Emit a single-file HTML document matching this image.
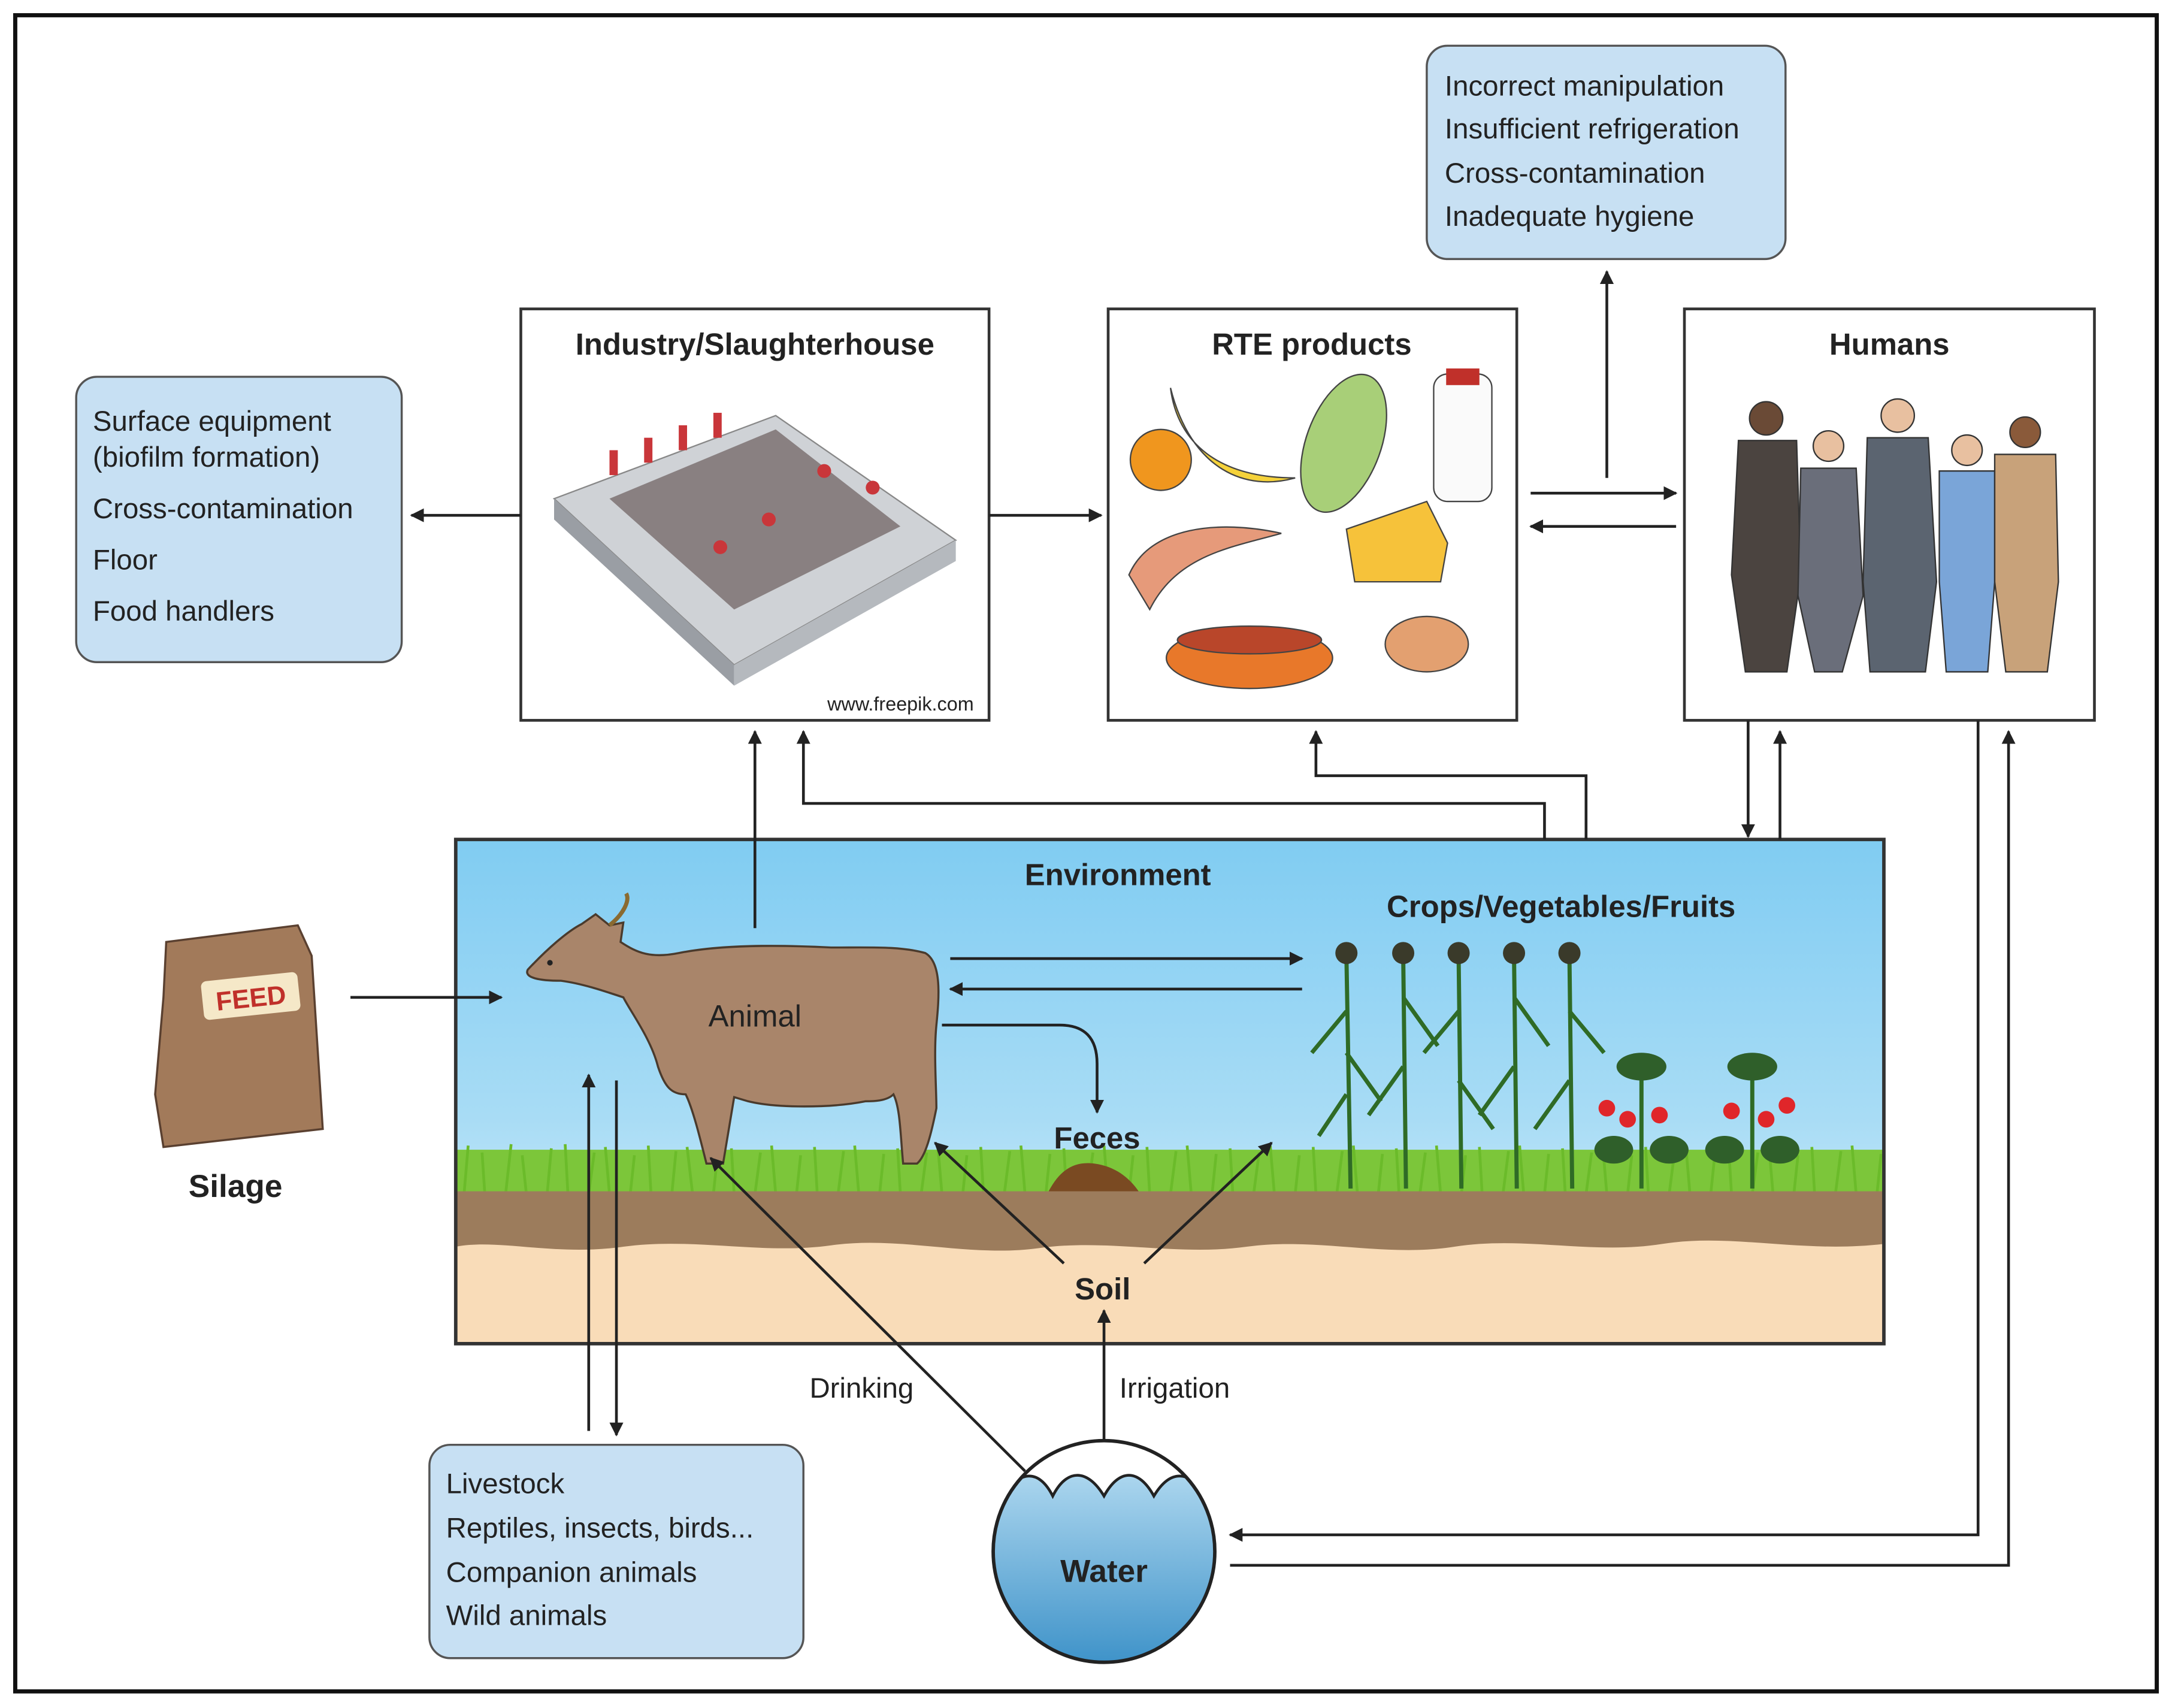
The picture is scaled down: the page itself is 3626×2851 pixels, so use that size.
<!DOCTYPE html>
<html><head><meta charset="utf-8"><style>
html,body{margin:0;padding:0;background:#fff}
svg{display:block}
text{font-family:"Liberation Sans",Arial,sans-serif;fill:#222}
</style></head><body>
<svg width="3626" height="2851" viewBox="0 0 1568 1233" preserveAspectRatio="none" xmlns="http://www.w3.org/2000/svg">
<defs>
<marker id="a" markerWidth="10" markerHeight="10" refX="9" refY="5" orient="auto" markerUnits="userSpaceOnUse" viewBox="0 0 10 10">
<path d="M0,0 L10,5 L0,10 z" fill="#222"/></marker>
<linearGradient id="sky" x1="0" y1="0" x2="0" y2="1">
<stop offset="0" stop-color="#80ccf2"/><stop offset="0.55" stop-color="#a8dcf5"/><stop offset="1" stop-color="#dff2fb"/></linearGradient>
<linearGradient id="wat" x1="0" y1="0" x2="0" y2="1">
<stop offset="0" stop-color="#bfe2f5"/><stop offset="1" stop-color="#3f93c9"/></linearGradient>
<clipPath id="wc"><circle cx="797" cy="1120" r="80"/></clipPath>
</defs>
<rect x="0" y="0" width="1568" height="1233" fill="#fff"/>
<rect x="11" y="11" width="1546" height="1210" fill="none" stroke="#111" stroke-width="3"/>

<rect x="329" y="606" width="1031" height="364" fill="url(#sky)"/>
<path d="M329,830 L1360,830 L1360,862 L329,862z" fill="#7cc63a"/>
<g stroke="#6bbb2a" stroke-width="2">
<path d="M335,862 l3,-35 M350,862 l-2,-30 M365,862 l4,-36 M380,862 l-3,-28 M395,862 l3,-33 M410,862 l-2,-36 M425,862 l4,-30 M440,862 l-3,-34 M455,862 l3,-28 M470,862 l-2,-35 M485,862 l3,-31 M500,862 l-4,-34 M515,862 l3,-28 M530,862 l-2,-33 M545,862 l4,-30 M560,862 l-3,-35 M575,862 l3,-28 M590,862 l-2,-34 M605,862 l4,-31 M620,862 l-3,-35 M635,862 l3,-29 M650,862 l-2,-33 M665,862 l4,-30 M680,862 l-3,-35 M695,862 l3,-28 M710,862 l-2,-34 M725,862 l4,-31 M740,862 l-3,-35 M755,862 l3,-29 M770,862 l-2,-33 M785,862 l4,-30 M800,862 l-3,-35 M815,862 l3,-28 M830,862 l-2,-34 M845,862 l4,-31 M860,862 l-3,-35 M875,862 l3,-29 M890,862 l-2,-33 M905,862 l4,-30 M920,862 l-3,-35 M935,862 l3,-28 M950,862 l-2,-34 M965,862 l4,-31 M980,862 l-3,-35 M995,862 l3,-29 M1010,862 l-2,-33 M1025,862 l4,-30 M1040,862 l-3,-35 M1055,862 l3,-28 M1070,862 l-2,-34 M1085,862 l4,-31 M1100,862 l-3,-35 M1115,862 l3,-29 M1130,862 l-2,-33 M1145,862 l4,-30 M1160,862 l-3,-35 M1175,862 l3,-28 M1190,862 l-2,-34 M1205,862 l4,-31 M1220,862 l-3,-35 M1235,862 l3,-29 M1250,862 l-2,-33 M1265,862 l4,-30 M1280,862 l-3,-35 M1295,862 l3,-28 M1310,862 l-2,-34 M1325,862 l4,-31 M1340,862 l-3,-35 M1355,862 l3,-29"/>
</g>
<rect x="329" y="860" width="1031" height="110" fill="#f9dcb8"/>
<path d="M329,860 L1360,860 L1360,898 C1300,905 1250,890 1200,898 C1150,906 1100,892 1050,900 C1000,908 950,893 900,900 C850,907 800,894 750,901 C700,908 650,892 600,899 C550,906 500,893 450,900 C400,907 360,894 329,900z" fill="#9c7c5c"/>
<rect x="329" y="606" width="1031" height="364" fill="none" stroke="#333" stroke-width="2.5"/>
<text x="807" y="639" font-size="22" font-weight="bold" text-anchor="middle">Environment</text>
<text x="1127" y="662" font-size="22" font-weight="bold" text-anchor="middle">Crops/Vegetables/Fruits</text>

<path d="M381,700 C395,685 410,672 420,667 L430,660 L440,668 L450,666 L448,680 C460,688 470,692 490,688 C520,682 560,682 600,684 C630,684 650,683 668,688 C680,695 678,720 676,740 C674,760 676,785 676,800 C672,820 668,835 662,840 L652,840 C650,820 650,800 645,790 C640,795 630,795 625,795 C600,800 560,800 540,795 L530,792 L522,840 L510,840 C505,820 500,800 495,790 C485,790 480,785 475,770 C470,750 455,730 450,720 C435,715 420,710 405,708 C390,708 378,706 381,700z" fill="#a9856a" stroke="#4a3a2c" stroke-width="1.5"/>
<path d="M440,668 C450,660 455,650 452,645" stroke="#8a6a30" stroke-width="3" fill="none"/>
<circle cx="397" cy="695" r="2" fill="#222"/>
<text x="545" y="741" font-size="22" text-anchor="middle">Animal</text>
<path d="M757,860 C765,845 775,838 790,840 C805,842 815,850 822,860z" fill="#7a4a22"/>
<text x="792" y="829" font-size="22" font-weight="bold" text-anchor="middle">Feces</text>
<text x="796" y="938" font-size="22" font-weight="bold" text-anchor="middle">Soil</text>

<g stroke="#2f6b26" stroke-width="3" fill="none">
<path d="M975,858 L972,690 M1015,858 L1013,690 M1055,858 L1053,690 M1095,858 L1093,690 M1135,858 L1133,690"/>
<path d="M972,730 l-25,30 M972,760 l25,35 M972,790 l-20,30 M1013,720 l25,35 M1013,770 l-25,35 M1053,730 l-25,30 M1053,780 l25,35 M1093,720 l25,35 M1093,770 l-25,35 M1133,730 l25,30 M1133,780 l-25,35"/>
<path d="M1185,858 L1185,770 M1265,858 L1265,770"/>
</g>
<g fill="#3a3a2a"><circle cx="972" cy="688" r="8"/><circle cx="1013" cy="688" r="8"/><circle cx="1053" cy="688" r="8"/><circle cx="1093" cy="688" r="8"/><circle cx="1133" cy="688" r="8"/></g>
<g fill="#2f5f2a"><ellipse cx="1165" cy="830" rx="14" ry="10"/><ellipse cx="1205" cy="830" rx="14" ry="10"/><ellipse cx="1245" cy="830" rx="14" ry="10"/><ellipse cx="1285" cy="830" rx="14" ry="10"/><ellipse cx="1185" cy="770" rx="18" ry="10"/><ellipse cx="1265" cy="770" rx="18" ry="10"/></g>
<g fill="#e0262a"><circle cx="1160" cy="800" r="6"/><circle cx="1175" cy="808" r="6"/><circle cx="1198" cy="805" r="6"/><circle cx="1250" cy="802" r="6"/><circle cx="1275" cy="808" r="6"/><circle cx="1290" cy="798" r="6"/></g>

<path d="M120,680 L215,668 L225,690 L233,815 L118,828 L112,790 L118,720z" fill="#a27a5a" stroke="#5a4030" stroke-width="1.5"/>
<rect x="146" y="705" width="70" height="28" rx="4" fill="#f5e8c8" transform="rotate(-6 181 719)"/>
<text x="181" y="727" font-size="19" font-weight="bold" style="fill:#c0302a" text-anchor="middle" transform="rotate(-6 181 719)">FEED</text>
<text x="170" y="864" font-size="23" font-weight="bold" text-anchor="middle">Silage</text>

<rect x="1030" y="33" width="259" height="154" rx="15" fill="#c7e0f3" stroke="#555" stroke-width="1.5"/>
<g font-size="20.5"><text x="1043" y="69">Incorrect manipulation</text><text x="1043" y="100">Insufficient refrigeration</text><text x="1043" y="132">Cross-contamination</text><text x="1043" y="163">Inadequate hygiene</text></g>
<rect x="55" y="272" width="235" height="206" rx="15" fill="#c7e0f3" stroke="#555" stroke-width="1.5"/>
<g font-size="20.5"><text x="67" y="311">Surface equipment</text><text x="67" y="337">(biofilm formation)</text><text x="67" y="374">Cross-contamination</text><text x="67" y="411">Floor</text><text x="67" y="448">Food handlers</text></g>
<rect x="310" y="1043" width="270" height="154" rx="15" fill="#c7e0f3" stroke="#555" stroke-width="1.5"/>
<g font-size="20.5"><text x="322" y="1078">Livestock</text><text x="322" y="1110">Reptiles, insects, birds...</text><text x="322" y="1142">Companion animals</text><text x="322" y="1173">Wild animals</text></g>

<rect x="376" y="223" width="338" height="297" fill="#fff" stroke="#333" stroke-width="2"/>
<text x="545" y="256" font-size="22" font-weight="bold" text-anchor="middle">Industry/Slaughterhouse</text>
<path d="M400,360 L560,300 L690,390 L530,480z" fill="#cfd2d6" stroke="#888"/>
<path d="M400,360 L530,480 L530,495 L400,375z" fill="#9a9ea4"/>
<path d="M530,480 L690,390 L690,405 L530,495z" fill="#b5b9be"/>
<path d="M440,360 L560,310 L650,380 L530,440z" fill="#5a4a48" opacity="0.6"/>
<g fill="#c9363a"><rect x="440" y="325" width="6" height="18"/><rect x="465" y="316" width="6" height="18"/><rect x="490" y="307" width="6" height="18"/><rect x="515" y="298" width="6" height="18"/><circle cx="520" cy="395" r="5"/><circle cx="555" cy="375" r="5"/><circle cx="595" cy="340" r="5"/><circle cx="630" cy="352" r="5"/></g>
<text x="703" y="513" font-size="14" text-anchor="end">www.freepik.com</text>

<rect x="800" y="223" width="295" height="297" fill="#fff" stroke="#333" stroke-width="2"/>
<text x="947" y="256" font-size="22" font-weight="bold" text-anchor="middle">RTE products</text>
<circle cx="838" cy="332" r="22" fill="#f0961e" stroke="#444"/>
<path d="M845,280 C850,320 880,345 935,345 C900,355 860,340 845,280z" fill="#f5d23a" stroke="#444"/>
<ellipse cx="970" cy="320" rx="27" ry="52" fill="#a8cf78" stroke="#444" transform="rotate(20 970 320)"/>
<rect x="1035" y="270" width="42" height="92" rx="10" fill="#fafafa" stroke="#444"/>
<rect x="1044" y="266" width="24" height="12" fill="#c0302a"/>
<path d="M815,415 C830,380 880,375 925,385 C890,395 850,400 830,440z" fill="#e69a7a" stroke="#444"/>
<path d="M972,382 L1030,362 L1045,392 L1040,420 L978,420z" fill="#f6c23a" stroke="#444"/>
<ellipse cx="902" cy="475" rx="60" ry="22" fill="#e8782a" stroke="#444"/>
<ellipse cx="902" cy="462" rx="52" ry="10" fill="#b9462a" stroke="#444"/>
<ellipse cx="1030" cy="465" rx="30" ry="20" fill="#e3a070" stroke="#444"/>

<rect x="1216" y="223" width="296" height="297" fill="#fff" stroke="#333" stroke-width="2"/>
<text x="1364" y="256" font-size="22" font-weight="bold" text-anchor="middle">Humans</text>
<g stroke="#333" stroke-width="1">
<circle cx="1275" cy="302" r="12" fill="#6a4a36"/><path d="M1255,318 L1297,318 L1300,415 L1290,485 L1260,485 L1250,415z" fill="#4b4440"/>
<circle cx="1320" cy="322" r="11" fill="#e8c0a0"/><path d="M1300,338 L1340,338 L1345,430 L1330,485 L1310,485 L1298,430z" fill="#6a6e7a"/>
<circle cx="1370" cy="300" r="12" fill="#e8c0a0"/><path d="M1348,316 L1392,316 L1398,420 L1390,485 L1350,485 L1345,420z" fill="#5b6470"/>
<circle cx="1420" cy="325" r="11" fill="#e8c0a0"/><path d="M1400,340 L1440,340 L1440,420 L1435,485 L1405,485 L1400,420z" fill="#7aa5d8"/>
<circle cx="1462" cy="312" r="11" fill="#8a5a3a"/><path d="M1440,328 L1484,328 L1486,420 L1478,485 L1448,485 L1440,420z" fill="#c8a27a"/>
</g>

<circle cx="797" cy="1120" r="80" fill="url(#wat)"/>
<path clip-path="url(#wc)" d="M700,1085 L720,1085 C735,1060 750,1060 760,1080 C770,1060 785,1060 797,1080 C808,1060 822,1060 833,1080 C845,1060 860,1060 874,1085 L900,1085 L900,1030 L700,1030z" fill="#fff" stroke="#222" stroke-width="2"/>
<circle cx="797" cy="1120" r="80" fill="none" stroke="#222" stroke-width="2.5"/>
<text x="797" y="1142" font-size="23" font-weight="bold" text-anchor="middle">Water</text>
<text x="622" y="1009" font-size="20.5" text-anchor="middle">Drinking</text>
<text x="848" y="1009" font-size="20.5" text-anchor="middle">Irrigation</text>

<g stroke="#222" stroke-width="2" fill="none" marker-end="url(#a)">
<path d="M376,372 L297,372"/>
<path d="M714,372 L795,372"/>
<path d="M1105,356 L1210,356"/>
<path d="M1210,380 L1105,380"/>
<path d="M1160,345 L1160,196"/>
<path d="M545,670 L545,528"/>
<path d="M1115,606 L1115,580 L580,580 L580,528"/>
<path d="M1145,606 L1145,560 L950,560 L950,528"/>
<path d="M1262,520 L1262,604"/>
<path d="M1285,606 L1285,528"/>
<path d="M1428,520 L1428,1108 L888,1108"/>
<path d="M888,1130 L1450,1130 L1450,528"/>
<path d="M253,720 L362,720"/>
<path d="M425,1033 L425,776"/>
<path d="M445,780 L445,1036"/>
<path d="M686,692 L940,692"/>
<path d="M940,714 L686,714"/>
<path d="M680,740 L765,740 Q792,740 792,768 L792,803"/>
<path d="M768,912 L675,825"/>
<path d="M826,912 L918,825"/>
<path d="M740,1062 L513,836"/>
<path d="M797,1040 L797,946"/>
</g>
</svg>
</body></html>
